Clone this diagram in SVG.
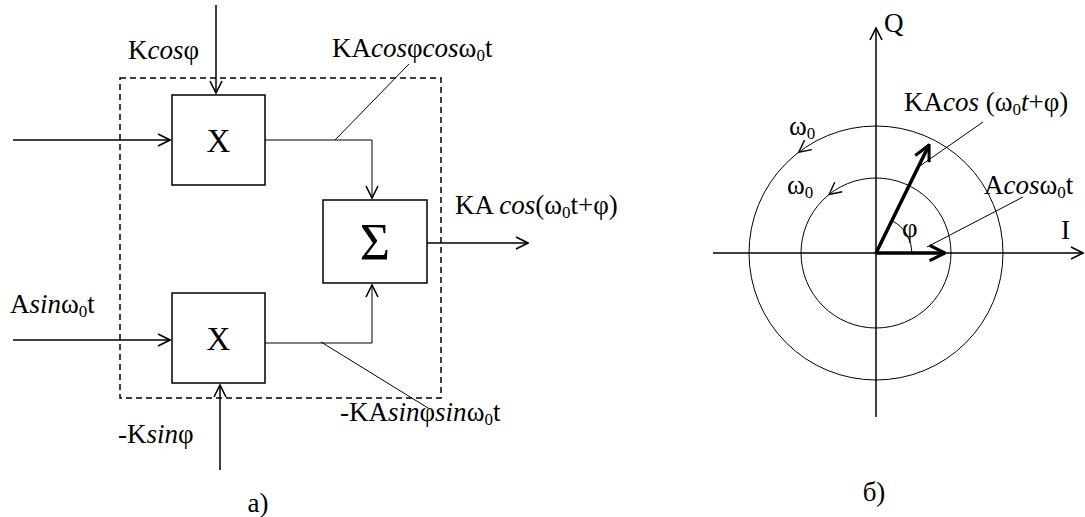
<svg xmlns="http://www.w3.org/2000/svg" width="1085" height="517" viewBox="0 0 1085 517">
<style>
text{font-family:"Liberation Serif","Times New Roman",serif;font-size:27px;fill:#000}
.i{font-style:italic}
.s{font-size:17px}
.x{font-size:33px}
.sg{font-size:52px}
.ln{fill:none;stroke:#000;stroke-width:1.5}
.th{fill:none;stroke:#000;stroke-width:1}
.ch{fill:none;stroke:#000;stroke-width:1.4}
.bd{fill:none;stroke:#000;stroke-width:3.5}
.box{fill:#fff;stroke:#000;stroke-width:1.5}
</style>
<defs>
<marker id="a" viewBox="0 0 14 14" refX="13" refY="7" markerWidth="14" markerHeight="14" markerUnits="userSpaceOnUse" orient="auto">
<path d="M1,1 L13,7 L1,13" fill="none" stroke="#000" stroke-width="1.6"/>
</marker>
<marker id="b" viewBox="0 0 14 14" refX="13" refY="7" markerWidth="18" markerHeight="18" markerUnits="userSpaceOnUse" orient="auto">
<path d="M1,1 L13,7 L1,13" fill="none" stroke="#000" stroke-width="2.4"/>
</marker>
</defs>
<g id="frame"><rect x="120" y="78" width="321" height="320" fill="none" stroke="#000" stroke-width="1.5" stroke-dasharray="6,4"/></g>
<g id="connectors">
<path class="ln" d="M216,5 V93" marker-end="url(#a)"/>
<path class="ln" d="M13,140 H170" marker-end="url(#a)"/>
<path class="th" d="M265,140 H372 V198" marker-end="url(#a)"/>
<path class="ln" d="M13,340 H170" marker-end="url(#a)"/>
<path class="ln" d="M220,470 V385" marker-end="url(#a)"/>
<path class="th" d="M265,343 H372 V285" marker-end="url(#a)"/>
<path class="ln" d="M427,243 H528" marker-end="url(#a)"/>
<path class="th" d="M335,140 L409,64"/>
<path class="th" d="M321,342 L428,408"/>
</g>
<g id="mult1"><rect class="box" x="172" y="95" width="93" height="90"/><text class="x" x="218.5" y="152" text-anchor="middle">X</text></g>
<g id="mult2"><rect class="box" x="172" y="293" width="93" height="90"/><text class="x" x="218.5" y="350" text-anchor="middle">X</text></g>
<g id="sum"><rect class="box" x="323" y="200" width="104" height="83"/><text class="sg" x="375" y="260" text-anchor="middle">Σ</text></g>
<g id="labels-a">
<text x="128" y="59">K<tspan class="i">cos</tspan>φ</text>
<text x="332" y="57">KA<tspan class="i">cos</tspan>φ<tspan class="i">cos</tspan>ω<tspan class="s" dy="4">0</tspan><tspan dy="-4">t</tspan></text>
<text x="455" y="214">KA <tspan class="i">cos</tspan>(ω<tspan class="s" dy="4">0</tspan><tspan dy="-4">t+φ)</tspan></text>
<text x="10" y="313">A<tspan class="i">sin</tspan>ω<tspan class="s" dy="4">0</tspan><tspan dy="-4">t</tspan></text>
<text x="118" y="443">-K<tspan class="i">sin</tspan>φ</text>
<text x="340" y="421">-KA<tspan class="i">sin</tspan>φ<tspan class="i">sin</tspan>ω<tspan class="s" dy="4">0</tspan><tspan dy="-4">t</tspan></text>
<text x="258" y="512" text-anchor="middle">а)</text>
</g>
<g id="phasor">
<circle class="th" cx="876" cy="253" r="127"/>
<circle class="th" cx="876" cy="253" r="75"/>
<path class="ln" d="M713,253 H1083" marker-end="url(#a)"/>
<path class="ln" d="M876,417 V28" marker-end="url(#a)"/>
<path class="ch" d="M811.9,149.6 L798.7,152.2 L804.6,140.1"/>
<path class="ch" d="M842.2,191.7 L829.1,194.5 L834.7,182.3"/>
<path class="th" d="M912,253 A36,36 0 0 0 891.8,220.7"/>
<path class="bd" d="M876,253 L929,145" marker-end="url(#b)"/>
<path class="bd" d="M876,253 H945" marker-end="url(#b)"/>
<path class="th" d="M983,122 L917,168"/>
<path class="th" d="M1023,197 L927,247"/>
<text x="884" y="32">Q</text>
<text x="1061" y="239">I</text>
<text x="904" y="111">KA<tspan class="i">cos</tspan> (ω<tspan class="s" dy="4">0</tspan><tspan class="i" dy="-4">t</tspan>+φ)</text>
<text x="984" y="194">A<tspan class="i">cos</tspan>ω<tspan class="s" dy="4">0</tspan><tspan dy="-4">t</tspan></text>
<text x="789" y="135">ω<tspan class="s" dy="4">0</tspan></text>
<text x="787" y="194">ω<tspan class="s" dy="4">0</tspan></text>
<text x="902" y="237">φ</text>
<text x="874" y="501" text-anchor="middle">б)</text>
</g>
</svg>
